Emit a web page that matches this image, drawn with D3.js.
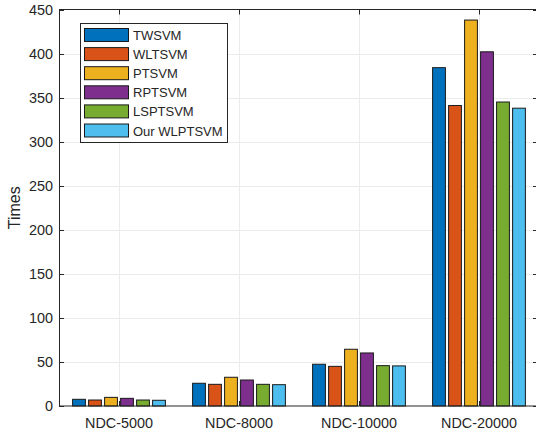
<!DOCTYPE html>
<html>
<head>
<meta charset="utf-8">
<script src="https://cdn.jsdelivr.net/npm/d3@7"></script>
<style>
  body { margin: 0; background: #fff; overflow: hidden; }
  text { font-family: "Liberation Sans", Arial, sans-serif; fill: #262626; }
</style>
</head>
<body>
<div id="chart"></div>
<script>
// data
const categories = ["NDC-5000", "NDC-8000", "NDC-10000", "NDC-20000"];
const methods = ["TWSVM", "WLTSVM", "PTSVM", "RPTSVM", "LSPTSVM", "Our WLPTSVM"];
const twsvm   = [7.6, 25.8, 47.4, 384];
const wltsvm  = [6.8, 24.6, 45.0, 341];
const ptsvm   = [9.8, 32.6, 64.4, 438];
const rptsvm  = [8.7, 29.5, 60.2, 402];
const lsptsvm = [6.8, 24.6, 45.8, 345];
const ours    = [6.5, 24.2, 45.5, 338];
const yTicks = [0, 50, 100, 150, 200, 250, 300, 350, 400, 450];
const colors = ["#0072BD", "#D95319", "#EDB120", "#7E2F8E", "#77AC30", "#4DBEEE"];

const series = [twsvm, wltsvm, ptsvm, rptsvm, lsptsvm, ours];

const width = 536, height = 435;
// the plot box runs a little past the right edge of the picture
const plot = {left: 59, right: 539, top: 9.5, bottom: 406};

let svg = d3.select("#chart").append("svg")
    .attr("width", width)
    .attr("height", height);

// scales
const x = d3.scaleLinear()
    .domain([0.5, categories.length + 0.5])
    .range([plot.left, plot.right]);
const y = d3.scaleLinear()
    .domain([0, 450])
    .range([plot.bottom, plot.top]);

const groupW = 0.8;
const pitch = groupW / methods.length;
const barW = pitch * 0.8;

// grid
let grid = svg.append("g");
grid.selectAll("line.gy").data(yTicks.slice(1, -1)).join("line")
    .attr("x1", x.range()[0]).attr("x2", x.range()[1])
    .attr("y1", d => Math.round(y(d)) + 0.5).attr("y2", d => Math.round(y(d)) + 0.5)
    .attr("stroke", "#ebebeb").attr("stroke-width", 1);
grid.selectAll("line.gx").data(categories).join("line")
    .attr("x1", (d, i) => Math.round(x(i + 1)) + 0.5).attr("x2", (d, i) => Math.round(x(i + 1)) + 0.5)
    .attr("y1", y.range()[0]).attr("y2", y.range()[1])
    .attr("stroke", "#ebebeb").attr("stroke-width", 1);

// bars
let groups = svg.append("g").selectAll("g").data(series).join("g")
    .attr("fill", (d, i) => colors[i]);
groups.each(function(vals, s) {
    d3.select(this).selectAll("rect").data(vals).join("rect")
        .attr("x", (v, i) => x(i + 1 - groupW / 2 + pitch * s + (pitch - barW) / 2))
        .attr("width", x(barW) - x(0))
        .attr("y", v => y(v))
        .attr("height", v => y(0) - y(v))
        .attr("stroke", "#1a1a1a")
        .attr("stroke-width", 1);
});

// axes box
let axisG = svg.append("g");
axisG.append("rect")
    .attr("x", x.range()[0] + 0.5).attr("y", y.range()[1])
    .attr("width", x.range()[1] - x.range()[0] - 1)
    .attr("height", y.range()[0] - y.range()[1])
    .attr("fill", "none").attr("stroke", "#262626").attr("stroke-width", 1);

const tickLen = 5;
// y ticks inward, both sides
axisG.selectAll("line.yl").data(yTicks).join("line")
    .attr("class", "yl")
    .attr("x1", x.range()[0]).attr("x2", x.range()[0] + tickLen)
    .attr("y1", d => Math.round(y(d)) + 0.5).attr("y2", d => Math.round(y(d)) + 0.5)
    .attr("stroke", "#262626");
axisG.selectAll("line.yr").data(yTicks).join("line")
    .attr("class", "yr")
    .attr("x1", x.range()[1] - 1).attr("x2", x.range()[1] - 1 - tickLen)
    .attr("y1", d => Math.round(y(d)) + 0.5).attr("y2", d => Math.round(y(d)) + 0.5)
    .attr("stroke", "#262626");
// x ticks top and bottom
axisG.selectAll("line.xb").data(categories).join("line")
    .attr("class", "xb")
    .attr("x1", (d, i) => Math.round(x(i + 1)) + 0.5).attr("x2", (d, i) => Math.round(x(i + 1)) + 0.5)
    .attr("y1", y.range()[0]).attr("y2", y.range()[0] - tickLen)
    .attr("stroke", "#262626");
axisG.selectAll("line.xt").data(categories).join("line")
    .attr("class", "xt")
    .attr("x1", (d, i) => Math.round(x(i + 1)) + 0.5).attr("x2", (d, i) => Math.round(x(i + 1)) + 0.5)
    .attr("y1", y.range()[1]).attr("y2", y.range()[1] + tickLen)
    .attr("stroke", "#262626");

// tick labels
axisG.selectAll("text.ylab").data(yTicks).join("text")
    .attr("class", "ylab")
    .attr("x", x.range()[0] - 6)
    .attr("y", d => y(d))
    .attr("dy", "0.35em")
    .attr("text-anchor", "end")
    .attr("font-size", 14.4)
    .text(d => d);
axisG.selectAll("text.xlab").data(categories).join("text")
    .attr("class", "xlab")
    .attr("x", (d, i) => x(i + 1))
    .attr("y", y.range()[0] + 17)
    .attr("dy", "0.35em")
    .attr("text-anchor", "middle")
    .attr("font-size", 14.4)
    .text(d => d);

svg.append("text")
    .attr("transform", `translate(20,${(y.range()[0] + y.range()[1]) / 2}) rotate(-90)`)
    .attr("text-anchor", "middle")
    .attr("font-size", 16)
    .text("Times");

// legend
let legend = svg.append("g").attr("transform", "translate(80,23)");
legend.append("rect")
    .attr("x", 0.5).attr("y", 0.5)
    .attr("width", 147).attr("height", 119)
    .attr("fill", "#fff").attr("stroke", "#262626").attr("stroke-width", 1);
let items = legend.selectAll("g").data(methods).join("g")
    .attr("transform", (d, i) => `translate(4,${5 + i * 19.1})`);
items.append("rect")
    .attr("x", 0.5).attr("y", 0.5)
    .attr("width", 44).attr("height", 13)
    .attr("fill", (d, i) => colors[i])
    .attr("stroke", "#1a1a1a");
items.append("text")
    .attr("x", 49).attr("y", 7.5)
    .attr("dy", "0.35em")
    .attr("font-size", 13)
    .attr("fill", "#000")
    .text(d => d);
</script>
</body>
</html>
